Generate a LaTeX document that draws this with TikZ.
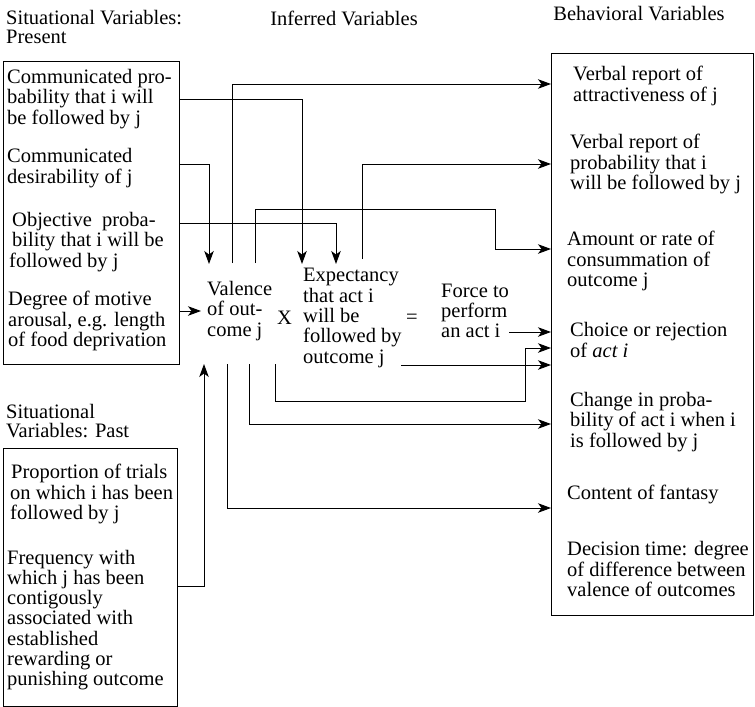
\documentclass[tikz,border=0pt]{standalone}
\usepackage{fontspec}
\setmainfont{Liberation Serif}
\usetikzlibrary{arrows.meta,positioning}
\tikzset{
  varbox/.style={draw, line width=0.9bp, inner sep=0pt, anchor=north west},
  vartext/.style={align=left, inner sep=0pt, anchor=west,
    font=\fontsize{20.5bp}{20.3bp}\selectfont},
  heading/.style={align=left, inner sep=0pt, anchor=west,
    font=\fontsize{20.5bp}{19.5bp}\selectfont},
  link/.style={line width=0.9bp, -{Stealth[length=13bp,width=9.5bp,inset=3.5bp]}},
}
\begin{document}
\begin{tikzpicture}[x=1bp,y=-1bp]
\useasboundingbox (0,0) rectangle (755,707);
% headings
\node[heading] (hpresent) at (6,27) {Situational Variables:\\Present};
\node[heading, anchor=center] (hinferred) at (344,18) {Inferred Variables};
\node[heading, anchor=center] (hbehav) at (639,14) {Behavioral Variables};
\node[heading] (hpast) at (6,421) {Situational\\Variables: Past};

% boxes
\node[varbox, minimum width=176bp, minimum height=303bp] (present) at (3,61) {};
\node[varbox, minimum width=174bp, minimum height=258bp] (past) at (3,448) {};
\node[varbox, minimum width=202bp, minimum height=562bp] (behav) at (551,53) {};

% situational variables
\node[vartext] (pres1) at (7,99) {Communicated pro-\\bability that i will\\be followed by j};
\node[vartext] (pres2) at (7,168) {Communicated\\desirability of j};
\node[vartext] (pres3) at (9,242) {\hspace*{3bp}Objective\ \ proba-\\\hspace*{3bp}bility that i will be\\followed by j};
\node[vartext] (pres4) at (8,321) {Degree of motive\\arousal, e.g. length\\of food deprivation};
\node[vartext] (past1) at (8,494) {\hspace*{3bp}Proportion of trials\\\hspace*{2bp}on which i has been\\\hspace*{2bp}followed by j};
\node[vartext] (past2) at (7,620) {Frequency with\\which j has been\\contigously\\associated with\\established\\rewarding or\\punishing outcome};

% inferred variables
\node[vartext] (valence) at (207,311) {Valence\\of out-\\come j};
\node[vartext] (times) at (277,318) {X};
\node[vartext] (expect) at (303,318) {Expectancy\\that act i\\will be\\followed by\\outcome j};
\node[vartext] (equals) at (406,319) {=};
\node[vartext] (force) at (441,311) {Force to\\perform\\an act i};

% behavioral variables
\node[vartext] (beh1) at (573,86) {Verbal report of\\attractiveness of j};
\node[vartext] (beh2) at (570,164) {Verbal report of\\probability that i\\will be followed by j};
\node[vartext] (beh3) at (567,261) {Amount or rate of\\consummation of\\outcome j};
\node[vartext] (beh4) at (570,340) {Choice or rejection\\of \textit{act i}};
\node[vartext] (beh5) at (570,422) {Change in proba-\\bility of act i when i\\is followed by j};
\node[vartext] (beh6) at (567,494) {Content of fantasy};
\node[vartext] (beh7) at (567,569) {Decision time: degree\\of difference between\\valence of outcomes};

% ports
\coordinate (pout1) at (present.east |- 0,99);
\coordinate (pout2) at (present.east |- 0,164);
\coordinate (pout3) at (present.east |- 0,223);
\coordinate (pout4) at (present.east |- 0,311);
\coordinate (qout) at (past.east |- 0,586);
\coordinate (vin1) at (209,264);
\coordinate (vin2) at (201,311);
\coordinate (vin3) at (204,364);
\coordinate (ein1) at (302,264);
\coordinate (ein2) at (336,264);
\coordinate (vout1) at (232,263);
\coordinate (vout2) at (255,263);
\coordinate (vout3) at (227,364);
\coordinate (vout4) at (249,364);
\coordinate (vout5) at (275,364);
\coordinate (eout1) at (362,259);
\coordinate (eout2) at (401,365);
\coordinate (fout) at (509,332);
\coordinate (bin1) at (behav.west |- 0,84);
\coordinate (bin2) at (behav.west |- 0,164);
\coordinate (bin3) at (behav.west |- 0,249);
\coordinate (bin4a) at (behav.west |- 0,332);
\coordinate (bin4b) at (behav.west |- 0,348);
\coordinate (bin4c) at (behav.west |- 0,365);
\coordinate (bin5) at (behav.west |- 0,424);
\coordinate (bin6) at (behav.west |- 0,508);

% into the inferred variables
\draw[link] (pout1) -| (ein1);
\draw[link] (pout2) -| (vin1);
\draw[link] (pout3) -| (ein2);
\draw[link] (pout4) -- (vin2);
\draw[link] (qout) -| (vin3);
% out to the behavioral variables
\draw[link] (vout1) |- (bin1);
\draw[link] (eout1) |- (bin2);
\draw[link] (vout2) |- (495,209) |- (bin3);
\draw[link] (fout) -- (bin4a);
\draw[link] (vout5) |- (525,401) |- (bin4b);
\draw[link] (eout2) -- (bin4c);
\draw[link] (vout4) |- (bin5);
\draw[link] (vout3) |- (bin6);
\end{tikzpicture}
\end{document}
